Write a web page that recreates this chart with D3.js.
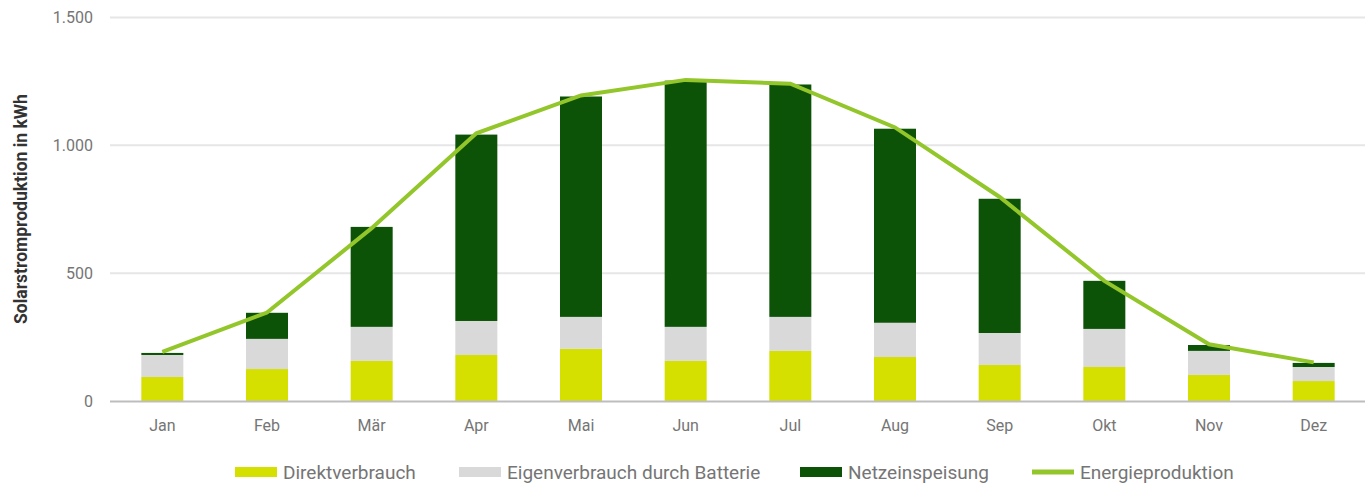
<!DOCTYPE html>
<html>
<head>
<meta charset="utf-8">
<script src="https://cdn.jsdelivr.net/npm/d3@7"></script>
<style>
  html, body { margin: 0; padding: 0; background: #fff; }
  svg { display: block; font-family: Roboto, "Noto Sans", sans-serif; }
</style>
</head>
<body>
<svg id="chart" width="1369" height="483"></svg>
<script>
const months = ["Jan","Feb","Mär","Apr","Mai","Jun","Jul","Aug","Sep","Okt","Nov","Dez"];
const direktverbrauch = [94, 125, 157, 180, 204, 157, 196, 172, 141, 133, 102, 78];
const batterie = [86, 118, 133, 133, 125, 133, 133, 134, 125, 149, 94, 55];
const netzeinspeisung = [8, 102, 391, 729, 862, 963, 909, 759, 525, 188, 23, 16];
const energieproduktion = [192, 346, 676, 1047, 1195, 1256, 1241, 1070, 798, 470, 222, 151];
const yTicks = [0, 500, 1000, 1500];
const seriesNames = ["Direktverbrauch", "Eigenverbrauch durch Batterie", "Netzeinspeisung", "Energieproduktion"];
const colors = ["#d5df00", "#d9d9d9", "#0d5307", "#93c62b"];

const svg = d3.select("#chart");
const x = d3.scaleBand().domain(months).range([110, 1366]).padding(0);
const y = d3.scaleLinear().domain([0, 1500]).range([401, 17.5]);
const fmt = v => d3.format(",")(v).replace(/,/g, ".");

// grid
svg.append("g").selectAll("line").data(yTicks.filter(d => d > 0)).join("line")
  .attr("x1", 110).attr("x2", 1365)
  .attr("y1", d => y(d)).attr("y2", d => y(d))
  .attr("stroke", "#e6e6e6").attr("stroke-width", 2);

// y labels
const yAxis = d3.axisLeft(y).tickValues(yTicks).tickFormat(fmt).tickSize(0).tickPadding(0);
const ya = svg.append("g").attr("transform", "translate(93,0)").call(yAxis);
ya.select(".domain").remove();
ya.selectAll("text").attr("font-size", 16).attr("fill", "#757575").attr("font-family", "Roboto");

// stacked bars
const rows = months.map((m, i) => ({month: m, a: direktverbrauch[i], b: batterie[i], c: netzeinspeisung[i]}));
const stack = d3.stack().keys(["a", "b", "c"])(rows);
const bw = 42;
svg.append("g").selectAll("g").data(stack).join("g")
  .attr("fill", (d, i) => colors[i])
  .selectAll("rect").data(d => d).join("rect")
  .attr("x", d => x(d.data.month) + x.bandwidth() / 2 - bw / 2)
  .attr("width", bw)
  .attr("y", d => y(d[1]))
  .attr("height", d => y(d[0]) - y(d[1]));

// baseline
svg.append("line").attr("x1", 110).attr("x2", 1365).attr("y1", y(0) + 0.5).attr("y2", y(0) + 0.5)
  .attr("stroke", "#bdbdbd").attr("stroke-width", 2);

// x axis labels
const xAxis = d3.axisBottom(x).tickSize(0).tickPadding(0);
const xa = svg.append("g").attr("transform", "translate(0,420)").call(xAxis);
xa.select(".domain").remove();
xa.selectAll("text").attr("font-size", 16).attr("fill", "#757575").attr("font-family", "Roboto").attr("dy", "0.71em");

// line
const line = d3.line().x((d, i) => x(months[i]) + x.bandwidth() / 2).y(d => y(d));
svg.append("path").datum(energieproduktion).attr("d", line)
  .attr("fill", "none").attr("stroke", colors[3]).attr("stroke-width", 4).attr("stroke-linejoin", "miter");

// y title
svg.append("text").attr("transform", "translate(26.5,209) rotate(-90)")
  .attr("text-anchor", "middle").attr("font-size", 17.5).attr("font-weight", "bold")
  .attr("fill", "#333").text("Solarstromproduktion in kWh");

// legend
const lg = svg.append("g");
const lx = [235, 459, 800, 1032];
seriesNames.forEach((n, i) => {
  const g = lg.append("g").attr("transform", `translate(${lx[i]},0)`);
  if (i < 3) g.append("rect").attr("x", 0).attr("y", 467).attr("width", 42).attr("height", 10).attr("fill", colors[i]);
  else g.append("rect").attr("x", 0).attr("y", 469.5).attr("width", 42).attr("height", 5).attr("fill", colors[i]);
  g.append("text").attr("x", 48).attr("y", 478.5).attr("font-size", 19).attr("fill", "#757575").text(n);
});
</script>
</body>
</html>
